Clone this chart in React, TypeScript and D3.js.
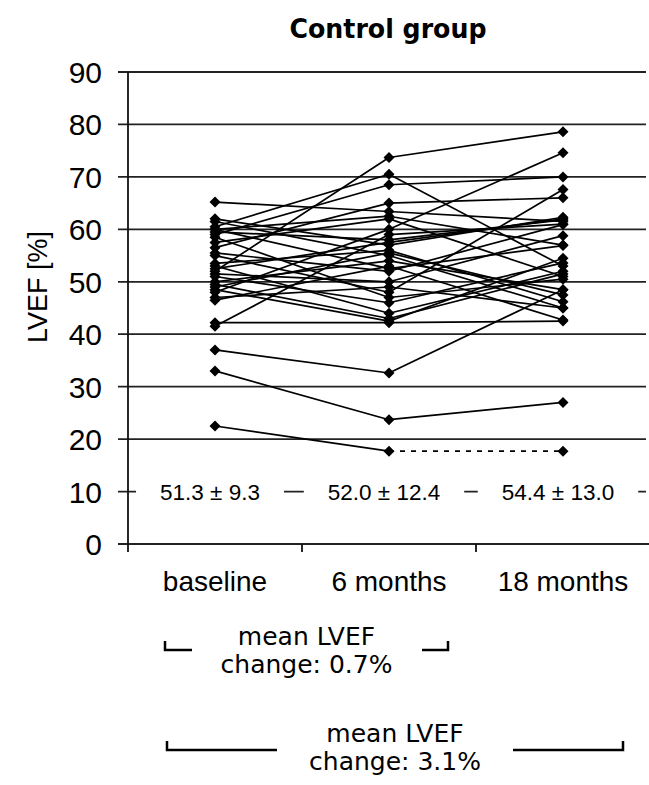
import React, { useEffect, useRef } from "react";
import * as d3 from "d3";

const categories = ["baseline", "6 months", "18 months"];
const yTicks = [0, 10, 20, 30, 40, 50, 60, 70, 80, 90];

// one entry per patient, same order in all three lists
const baseline = [65.2, 52, 60.5, 59, 56.5, 48, 62, 61.5, 60, 59.5, 58.5, 55.5, 55, 53.5, 53, 52.5, 51.5, 51, 50, 49.5, 49, 48.5, 47, 46.5, 42.2, 41.5, 37, 33, 22.5, 60, 57.5];
const month6 = [63.4, 73.7, 70.5, 68.5, 65, 60, 57, 55, 62.5, 58, 47, 52, 48, 56, 44, 57.5, 50, 46, 54, 43, 55.5, 42.5, 49, 53, 42.2, 59, 32.6, 23.7, 17.7, 52.5, 62];
const month18 = [61.5, 78.6, 53, 70, 66, 74.6, 62.3, 45, 57, 61.8, 50.5, 60.9, 67.6, 46.2, 52, 62, 58.8, 53.6, 48.5, 51.5, 47.5, 54.5, 45, 42.7, 42.5, 61, 48.5, 27, 17.7, 56.9, 51];
// patients whose last segment is only extrapolated (dashed)
const dashedPatients = [28];

const stats = ["51.3 \u00b1 9.3", "52.0 \u00b1 12.4", "54.4 \u00b1 13.0"];
const changes = [
  { from: 0, to: 1, label: ["mean LVEF", "change: 0.7%"] },
  { from: 0, to: 2, label: ["mean LVEF", "change: 3.1%"] },
];

const W = 649;
const H = 785;
const left = 128;
const right = 650;

const App = () => {
  const statsRef = useRef<SVGGElement>(null);

  const x = d3.scaleBand().domain(categories).range([left, right]).padding(0);
  const cx = (c: string) => (x(c) as number) + x.bandwidth() / 2;
  const y = d3.scaleLinear().domain([0, 90]).range([544, 72]);

  const line = d3
    .line<[number, number]>()
    .x(d => d[0])
    .y(d => d[1]);

  const patients = baseline.map((b, i) => [b, month6[i], month18[i]]);

  useEffect(() => {
    const g = d3.select(statsRef.current);
    g.selectAll("*").remove();
    stats.forEach((s, i) => {
      const t = g
        .append("text")
        .attr("x", cx(categories[i]) - 5)
        .attr("y", y(10) + 8)
        .attr("text-anchor", "middle")
        .attr("font-family", "Liberation Sans, Arial, sans-serif")
        .attr("font-size", 22.5)
        .text(s);
      const len = (t.node() as SVGTextElement).getComputedTextLength();
      g.insert("rect", "text")
        .attr("x", cx(categories[i]) - 5 - len / 2 - 24)
        .attr("y", y(10) - 14)
        .attr("width", len + 48)
        .attr("height", 28)
        .attr("fill", "white");
    });
  }, []);

  const brackets = [
    { y: 650, x0: 165, x1: 448, gap: [192, 422], ty: 645 },
    { y: 750, x0: 167, x1: 623, gap: [277, 513], ty: 742 },
  ];

  return (
    <svg width={W} height={H} style={{ position: "absolute", left: 0, top: 0, background: "white" }}>
      <text x={388} y={38} textAnchor="middle" fontFamily="DejaVu Sans, Verdana, sans-serif" fontWeight="bold" fontSize={27} textLength={197} lengthAdjust="spacingAndGlyphs">
        Control group
      </text>

      {/* gridlines and y ticks */}
      {yTicks.map(t => (
        <g key={t}>
          <line x1={118} x2={t === 0 ? right : 646} y1={y(t)} y2={y(t)} stroke="#222" strokeWidth={1.8} />
          <text x={102} y={y(t) + 11} textAnchor="end" fontFamily="Liberation Sans, Arial, sans-serif" fontSize={30}>
            {t}
          </text>
        </g>
      ))}

      <g ref={statsRef} />

      <line x1={left} x2={left} y1={y(90)} y2={y(0)} stroke="#111" strokeWidth={1.8} />
      {[left, ...categories.map(c => (x(c) as number) + x.bandwidth())].map((v, i) => (
        <line key={i} x1={v} x2={v} y1={y(0)} y2={y(0) + 8} stroke="#111" strokeWidth={1.8} />
      ))}
      {categories.map(c => (
        <text key={c} x={cx(c)} y={591} textAnchor="middle" fontFamily="Liberation Sans, Arial, sans-serif" fontSize={28}>
          {c}
        </text>
      ))}

      <text
        transform={`translate(47, 287) rotate(-90)`}
        textAnchor="middle"
        fontFamily="Liberation Sans, Arial, sans-serif"
        fontSize={27}
      >
        LVEF [%]
      </text>

      {/* patient lines */}
      {patients.map((p, i) => (
        <g key={i}>
          <path
            d={line([
              [cx(categories[0]), y(p[0])],
              [cx(categories[1]), y(p[1])],
            ]) as string}
            stroke="black"
            strokeWidth={1.7}
            fill="none"
          />
          <path
            d={line([
              [cx(categories[1]), y(p[1])],
              [cx(categories[2]), y(p[2])],
            ]) as string}
            stroke="black"
            strokeWidth={dashedPatients.includes(i) ? 1.9 : 1.7}
            strokeDasharray={dashedPatients.includes(i) ? "5 6" : undefined}
            fill="none"
          />
          {p.map((v, j) => {
            const px = cx(categories[j]);
            const py = y(v);
            const r = 5.5;
            return (
              <path key={j} d={`M${px},${py - r}L${px + r},${py}L${px},${py + r}L${px - r},${py}Z`} fill="black" />
            );
          })}
        </g>
      ))}

      {/* mean change brackets */}
      {changes.map((c, i) => {
        const b = brackets[i];
        const mid = (b.x0 + b.x1) / 2;
        return (
          <g key={i}>
            <path
              d={`M${b.x0},${b.y - 9}V${b.y}H${b.gap[0]}M${b.gap[1]},${b.y}H${b.x1}V${b.y - 9}`}
              stroke="black"
              strokeWidth={2.5}
              fill="none"
            />
            {c.label.map((l, k) => (
              <text key={k} x={mid} y={b.ty + k * 28} textAnchor="middle" fontFamily="DejaVu Sans, Verdana, sans-serif" fontSize={25}>
                {l}
              </text>
            ))}
          </g>
        );
      })}
    </svg>
  );
};

export default App;
